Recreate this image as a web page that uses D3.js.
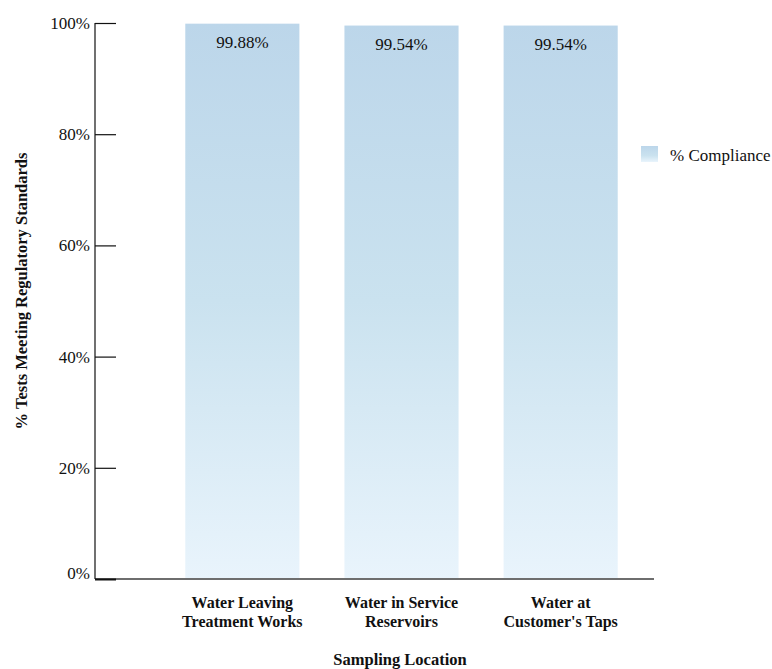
<!DOCTYPE html>
<html>
<head>
<meta charset="utf-8">
<script src="https://cdn.jsdelivr.net/npm/d3@7"></script>
<style>
  body { margin: 0; background: #fff; }
  svg text { font-family: "Liberation Serif", "DejaVu Serif", serif; fill: #111; }
</style>
</head>
<body>
<svg id="chart" width="772" height="669"></svg>
<script>
// Compliance results by sampling location
const categories = [
  ["Water Leaving", "Treatment Works"],
  ["Water in Service", "Reservoirs"],
  ["Water at", "Customer's Taps"]
];
const compliance = [99.88, 99.54, 99.54];
const valueLabels = ["99.88%", "99.54%", "99.54%"];
const yTicks = [0, 20, 40, 60, 80, 100];
const seriesName = "% Compliance";

const svg = d3.select("#chart");
const plotLeft = 95, plotRight = 654, plotTop = 23, plotBottom = 579;

const x = d3.scaleBand()
  .domain(d3.range(categories.length))
  .range([163, 640])
  .paddingInner(0.283)
  .paddingOuter(0.14);

const y = d3.scaleLinear().domain([0, 100]).range([plotBottom, plotTop]);

// Vertical gradient fill for the bars
const defs = svg.append("defs");
const grad = defs.append("linearGradient")
  .attr("id", "barFill")
  .attr("gradientUnits", "userSpaceOnUse")
  .attr("x1", 0).attr("x2", 0)
  .attr("y1", y(100)).attr("y2", y(0));
grad.append("stop").attr("offset", 0).attr("stop-color", "#bcd6ea");
grad.append("stop").attr("offset", 0.5).attr("stop-color", "#cae2ef");
grad.append("stop").attr("offset", 1).attr("stop-color", "#e9f4fc");

// Bars
svg.append("g").selectAll("rect")
  .data(compliance)
  .join("rect")
  .attr("x", (d, i) => x(i))
  .attr("width", x.bandwidth())
  .attr("y", d => y(d))
  .attr("height", d => y(0) - y(d))
  .attr("fill", "url(#barFill)");

// Value labels
svg.append("g").selectAll("text")
  .data(compliance)
  .join("text")
  .attr("x", (d, i) => x(i) + x.bandwidth() / 2)
  .attr("y", d => y(d) + 24)
  .attr("text-anchor", "middle")
  .attr("font-size", 17)
  .text((d, i) => valueLabels[i]);

// X axis baseline
svg.append("line")
  .attr("x1", plotLeft).attr("x2", plotRight)
  .attr("y1", plotBottom).attr("y2", plotBottom)
  .attr("stroke", "#6e6e6e").attr("stroke-width", 2);

// Y axis with ticks pointing into the plot
const yAxis = d3.axisRight(y)
  .tickValues(yTicks)
  .tickSize(21)
  .tickFormat("");
const yg = svg.append("g").attr("transform", `translate(${plotLeft},0)`).call(yAxis);
yg.select(".domain").remove();
yg.selectAll(".tick line").attr("stroke", "#111").attr("stroke-width", 1.2);
yg.selectAll(".tick").filter(d => d === 0).select("line").attr("stroke-width", 2);
svg.append("line")
  .attr("x1", plotLeft).attr("x2", plotLeft)
  .attr("y1", plotTop).attr("y2", plotBottom)
  .attr("stroke", "#111").attr("stroke-width", 1.2);

// Y tick labels
svg.append("g").selectAll("text")
  .data(yTicks)
  .join("text")
  .attr("x", plotLeft - 5)
  .attr("y", d => y(d) + (d === 0 ? 0 : 6))
  .attr("text-anchor", "end")
  .attr("font-size", 17)
  .text(d => d + "%");

// Category labels
const catG = svg.append("g").selectAll("text")
  .data(categories)
  .join("text")
  .attr("x", (d, i) => x(i) + x.bandwidth() / 2)
  .attr("y", 608)
  .attr("text-anchor", "middle")
  .attr("font-size", 16)
  .attr("font-weight", "bold");
catG.selectAll("tspan")
  .data(d => d)
  .join("tspan")
  .attr("x", function () { return d3.select(this.parentNode).attr("x"); })
  .attr("dy", (d, i) => i === 0 ? 0 : 19)
  .text(d => d);

// Axis titles
svg.append("text")
  .attr("x", 400).attr("y", 665)
  .attr("text-anchor", "middle")
  .attr("font-size", 16.5)
  .attr("font-weight", "bold")
  .text("Sampling Location");

svg.append("text")
  .attr("transform", "translate(27,291) rotate(-90)")
  .attr("text-anchor", "middle")
  .attr("font-size", 16.5)
  .attr("font-weight", "bold")
  .text("% Tests Meeting Regulatory Standards");

// Legend
const lgGrad = defs.append("linearGradient")
  .attr("id", "legendFill").attr("x1", 0).attr("x2", 0).attr("y1", 0).attr("y2", 1);
lgGrad.append("stop").attr("offset", 0).attr("stop-color", "#bcd6ea");
lgGrad.append("stop").attr("offset", 0.6).attr("stop-color", "#cae2ef");
lgGrad.append("stop").attr("offset", 1).attr("stop-color", "#e9f4fc");
svg.append("rect")
  .attr("x", 641).attr("y", 146).attr("width", 17).attr("height", 16)
  .attr("fill", "url(#legendFill)");
svg.append("text")
  .attr("x", 670).attr("y", 161)
  .attr("font-size", 17)
  .text(seriesName);
</script>
</body>
</html>
